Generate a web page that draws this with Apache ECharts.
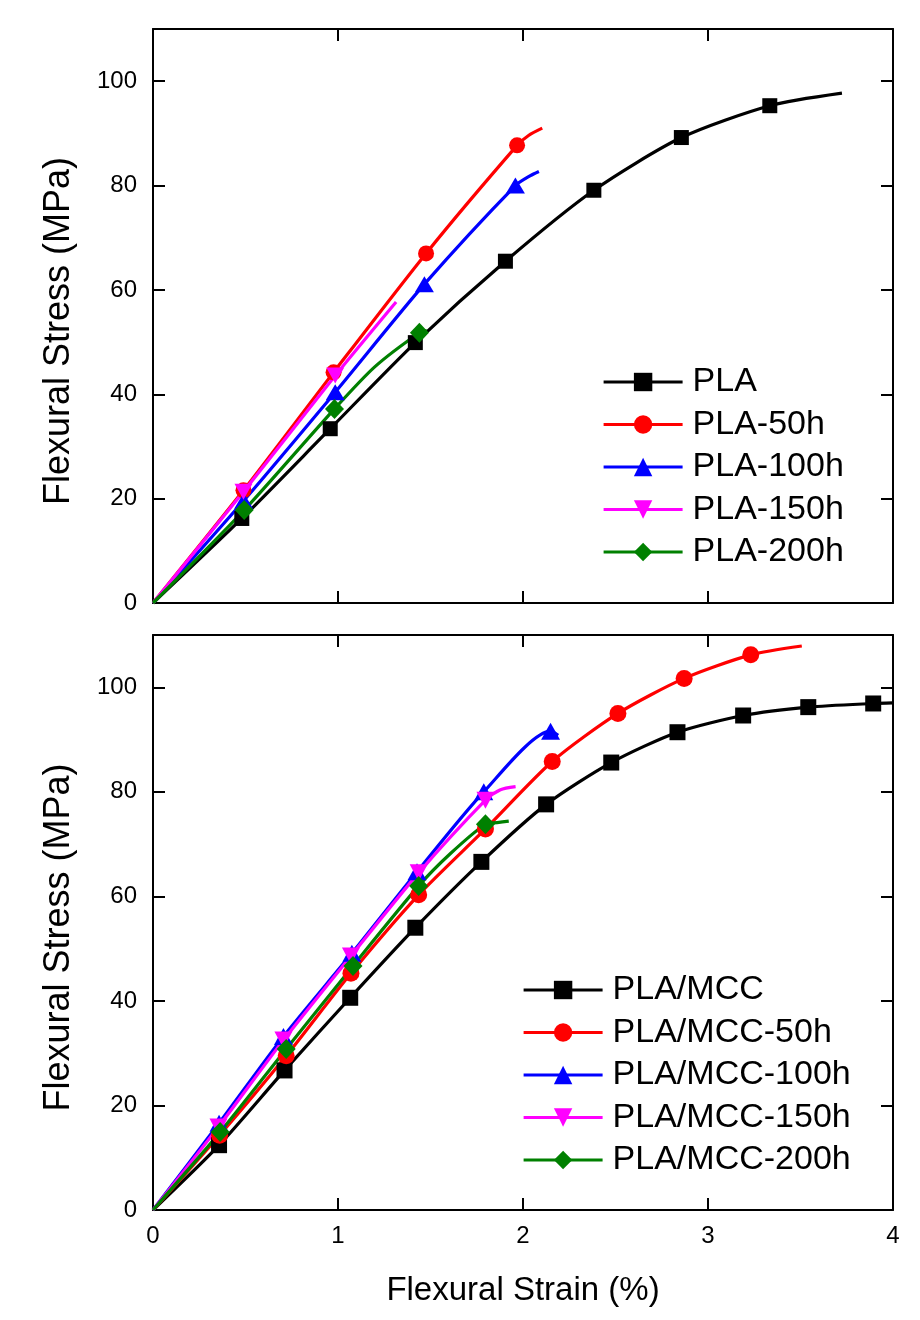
<!DOCTYPE html>
<html><head><meta charset="utf-8">
<script src="https://cdn.jsdelivr.net/npm/echarts@6/dist/echarts.min.js"></script>
<style>html,body{margin:0;padding:0;background:#fff}#c{width:920px;height:1320px}</style>
</head><body><div id="c"></div>
<script>
// ---------- Tick labels / axis ----------
const xTicks = [0, 1, 2, 3, 4];
const yTicks = [0, 20, 40, 60, 80, 100];
const xTitle = 'Flexural Strain (%)';
const yTitle = 'Flexural Stress (MPa)';

// ---------- Top panel data (strain %, stress MPa) ----------
const namesTop = ['PLA', 'PLA-50h', 'PLA-100h', 'PLA-150h', 'PLA-200h'];
const x_PLA = [0, 0.48, 0.958, 1.418, 1.905, 2.383, 2.856, 3.334, 3.724];
const y_PLA = [0, 16.2, 33.4, 49.9, 65.5, 79.1, 89.2, 95.3, 97.7];
const x_PLA50 = [0, 0.489, 0.976, 1.476, 1.968, 2.03, 2.104];
const y_PLA50 = [0, 21.6, 44.2, 67.0, 87.7, 89.6, 91.0];
const x_PLA100 = [0, 0.49, 0.985, 1.467, 1.959, 2.04, 2.086];
const y_PLA100 = [0, 19.6, 40.4, 61.1, 80.0, 81.9, 82.7];
const x_PLA150 = [0, 0.489, 0.985, 1.314];
const y_PLA150 = [0, 21.3, 43.6, 57.7];
const x_PLA200 = [0, 0.493, 0.981, 1.2, 1.44, 1.48];
const y_PLA200 = [0, 17.8, 37.2, 45.3, 51.8, 52.2];

// ---------- Bottom panel data ----------
const namesBot = ['PLA/MCC', 'PLA/MCC-50h', 'PLA/MCC-100h', 'PLA/MCC-150h', 'PLA/MCC-200h'];
const x_MCC = [0, 0.357, 0.711, 1.066, 1.418, 1.775, 2.125, 2.477, 2.835, 3.19, 3.542, 3.893, 4.0];
const y_MCC = [0, 12.4, 26.7, 40.6, 54.0, 66.6, 77.6, 85.6, 91.4, 94.6, 96.2, 96.9, 97.0];
const x_MCC50 = [0, 0.36, 0.72, 1.07, 1.436, 1.797, 2.158, 2.513, 2.871, 3.231, 3.507];
const y_MCC50 = [0, 14.3, 29.5, 45.3, 60.3, 72.9, 85.8, 95.0, 101.7, 106.2, 107.9];
const x_MCC100 = [0, 0.357, 0.705, 1.075, 1.427, 1.788, 2.149, 2.19];
const y_MCC100 = [0, 16.6, 33.2, 49.1, 64.7, 80.0, 91.6, 90.8];
const x_MCC150 = [0, 0.354, 0.705, 1.07, 1.436, 1.797, 1.878, 1.96];
const y_MCC150 = [0, 15.9, 32.5, 48.6, 64.5, 78.4, 80.4, 81.0];
const x_MCC200 = [0, 0.363, 0.72, 1.081, 1.436, 1.608, 1.797, 1.86, 1.923];
const y_MCC200 = [0, 14.9, 30.8, 46.7, 62.0, 68.2, 73.8, 74.1, 74.4];

const FONT = "'Liberation Sans', Arial, Helvetica, sans-serif";
const DOWN = 'path://M0,0L10,0L5,10Z';

// series descriptors: which indices carry markers
const topDefs = [
  {name: namesTop[0], x: x_PLA, y: y_PLA, color: '#000000', symbol: 'rect', size: 15, marks: [1,2,3,4,5,6,7]},
  {name: namesTop[1], x: x_PLA50, y: y_PLA50, color: '#ff0000', symbol: 'circle', size: 16, marks: [1,2,3,4]},
  {name: namesTop[2], x: x_PLA100, y: y_PLA100, color: '#0000ff', symbol: 'triangle', size: [19,16], marks: [1,2,3,4]},
  {name: namesTop[3], x: x_PLA150, y: y_PLA150, color: '#ff00ff', symbol: DOWN, size: [18,16], marks: [1,2]},
  {name: namesTop[4], x: x_PLA200, y: y_PLA200, color: '#008000', symbol: 'diamond', size: [19,20], marks: [1,2,4]}
];
const botDefs = [
  {name: namesBot[0], x: x_MCC, y: y_MCC, color: '#000000', symbol: 'rect', size: 16, marks: [1,2,3,4,5,6,7,8,9,10,11]},
  {name: namesBot[1], x: x_MCC50, y: y_MCC50, color: '#ff0000', symbol: 'circle', size: 17, marks: [1,2,3,4,5,6,7,8,9]},
  {name: namesBot[2], x: x_MCC100, y: y_MCC100, color: '#0000ff', symbol: 'triangle', size: [19,17], marks: [1,2,3,4,5,6]},
  {name: namesBot[3], x: x_MCC150, y: y_MCC150, color: '#ff00ff', symbol: DOWN, size: [18,17], marks: [1,2,3,4,5]},
  {name: namesBot[4], x: x_MCC200, y: y_MCC200, color: '#008000', symbol: 'diamond', size: [19,20], marks: [1,2,3,4,6]}
];

function mkSeries(d, gi) {
  const data = d.x.map((xv, i) => {
    const item = {value: [xv, d.y[i]]};
    if (d.marks.indexOf(i) < 0) item.symbol = 'none';
    return item;
  });
  return {
    type: 'line', name: d.name, xAxisIndex: gi * 2, yAxisIndex: gi * 2,
    data: data, smooth: 0.25,
    symbol: d.symbol, symbolSize: d.size, showAllSymbol: true,
    lineStyle: {color: d.color, width: 3.2},
    itemStyle: {color: d.color, borderWidth: 0},
    emphasis: {disabled: true}, animation: false, clip: false, z: 3
  };
}

const axisLine = {show: true, onZero: false, lineStyle: {color: '#000', width: 2}};
const tick = {show: true, inside: true, length: 12, lineStyle: {color: '#000', width: 2}};
function xAx(gi, pos, labels) {
  const a = {
    type: 'value', gridIndex: gi, position: pos, min: xTicks[0], max: xTicks[xTicks.length - 1], interval: xTicks[1] - xTicks[0],
    axisLine: axisLine, axisTick: tick, splitLine: {show: false},
    axisLabel: {show: labels, color: '#000', fontSize: 24, fontFamily: FONT, margin: 14}
  };
  if (labels) {
    a.name = xTitle; a.nameLocation = 'middle'; a.nameGap = 64;
    a.nameTextStyle = {color: '#000', fontSize: 33, fontFamily: FONT};
  }
  return a;
}
function yAx(gi, pos, labels) {
  const a = {
    type: 'value', gridIndex: gi, position: pos, min: yTicks[0], max: 110, interval: yTicks[1] - yTicks[0],
    axisLine: axisLine, axisTick: tick, splitLine: {show: false},
    axisLabel: {show: labels, color: '#000', fontSize: 24, fontFamily: FONT, margin: 16, showMaxLabel: false}
  };
  if (labels) {
    a.name = yTitle; a.nameLocation = 'middle'; a.nameGap = 76;
    a.nameTextStyle = {color: '#000', fontSize: 36, fontFamily: FONT, padding: [0, 30, 0, 0]};
  }
  return a;
}

function mkLegend(names, left, top) {
  return {
    data: names, orient: 'vertical', left: left, top: top, padding: 0,
    itemWidth: 79, itemHeight: 23, itemGap: 6.5, selectedMode: false,
    lineStyle: {width: 3.2},
    textStyle: {color: '#000', fontSize: 34, fontFamily: FONT, lineHeight: 36, padding: [0, 0, 0, 5]}
  };
}

const option = {
  backgroundColor: '#ffffff',
  animation: false,
  grid: [
    {left: 153, right: 27, top: 29, height: 574},
    {left: 153, right: 27, top: 635, height: 575}
  ],
  xAxis: [xAx(0, 'bottom', false), xAx(0, 'top', false), xAx(1, 'bottom', true), xAx(1, 'top', false)],
  yAxis: [yAx(0, 'left', true), yAx(0, 'right', false), yAx(1, 'left', true), yAx(1, 'right', false)],
  legend: [mkLegend(namesTop, 602, 364), mkLegend(namesBot, 522, 972)],
  series: topDefs.map(d => mkSeries(d, 0)).concat(botDefs.map(d => mkSeries(d, 1)))
};

const chart = echarts.init(document.getElementById('c'), null, {renderer: 'canvas'});
chart.setOption(option);
</script></body></html>
